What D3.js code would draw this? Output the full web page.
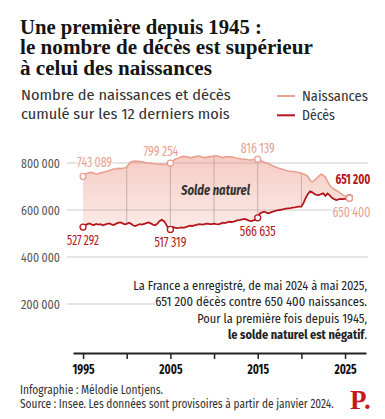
<!DOCTYPE html>
<html>
<head>
<meta charset="utf-8">
<script src="https://cdn.jsdelivr.net/npm/d3@7"></script>
<style>
  body { margin: 0; background: #fff; }
  svg { display: block; }
</style>
</head>
<body>
<svg id="chart" width="385" height="419"></svg>
<script>
// data : cumul 12 mois, en milliers, un point par trimestre depuis janv. 1995
var startYear = 1995;
var step = 0.25;

var births = [
  743.089, 752, 756, 759,
  760, 756, 752, 754,
  758, 760, 763, 765,
  768, 771, 774, 775,
  777, 776, 778, 779,
  782, 797, 805, 807,
  808, 807, 806, 805,
  803, 801, 800, 799,
  798, 797, 796, 795,
  796, 794, 796, 798,
  799.254, 806, 815, 820,
  822, 826, 828, 827,
  825, 823, 824, 826,
  829, 830, 828, 824,
  823, 825, 827, 828,
  830, 831, 829, 826,
  823, 825, 827, 826,
  826, 824, 821, 820,
  818, 817, 816, 815,
  813, 813, 815, 816,
  816.139, 812, 808, 803,
  800, 798, 792, 787,
  784, 780, 777, 774,
  771, 768, 766, 765,
  764, 763, 761, 759,
  756, 753, 749, 742,
  726, 720, 726, 735,
  744, 752, 748, 740,
  722, 705, 695, 688,
  683, 678, 671, 664,
  659, 655, 650.4
];

var deaths = [
  527.292, 535, 540, 543,
  538, 536, 541, 538,
  540, 535, 538, 541,
  543, 539, 536, 541,
  545, 547, 544, 539,
  541, 546, 541, 534,
  532, 536, 540, 538,
  541, 544, 547, 543,
  538, 535, 541, 552,
  558, 553, 540, 522,
  517.319, 528, 525, 523,
  524, 526, 524, 527,
  530, 533, 532, 535,
  537, 540, 539, 538,
  541, 542, 540, 540,
  542, 540, 539, 542,
  546, 544, 547, 550,
  549, 551, 554, 557,
  558, 560, 562, 559,
  555, 553, 556, 558,
  566.635, 585, 590, 593,
  589, 586, 590, 593,
  596, 598, 600, 602,
  604, 606, 607, 608,
  610, 611, 613, 614,
  614, 630, 652, 668,
  679, 675, 668, 664,
  663, 668, 671, 660,
  670, 662, 652, 646,
  642, 645, 647, 646,
  647, 648, 651.2
];

var yTicks = [200000, 400000, 600000, 800000];
var xTicks = [1995, 2000, 2005, 2010, 2015, 2020, 2025];
var xLabels = [1995, 2005, 2015, 2025];
var gridYears = [2000, 2005, 2010, 2015, 2020];

// points annotés (index dans les séries)
var birthMarks = [0, 40, 80, births.length - 1];
var deathMarks = [0, 40, 80, deaths.length - 1];

var titleLines = ["Une première depuis 1945 :", "le nombre de décès est supérieur", "à celui des naissances"];
var subtitleLines = ["Nombre de naissances et décès", "cumulé sur les 12 derniers mois"];
var legendNames = ["Naissances", "Décès"];
var noteLines = ["La France a enregistré, de mai 2024 à mai 2025,", "651 200 décès contre 650 400 naissances.", "Pour la première fois depuis 1945,", "le solde naturel est négatif."];
var footLines = ["Infographie : Mélodie Lontjens.", "Source : Insee. Les données sont provisoires à partir de janvier 2024."];

var colBirth = "#e8a191";
var colDeath = "#b3171c";
var sans = "'Fira Sans Condensed', Roboto, sans-serif";
var serif = "'Liberation Serif', 'DejaVu Serif', serif";

var data = births.map(function(b, i) {
  return {year: startYear + i * step, birth: b * 1000, death: deaths[i] * 1000};
});

var fr = d3.formatLocale({decimal: ",", thousands: "\u2009", grouping: [3], currency: ["", " €"]});
var fmt = fr.format(",d");

var svg = d3.select("#chart");

// texte resserré horizontalement (w = largeur voulue, sinon facteur k)
function txt(parent, px, py, str, o) {
  o = o || {};
  var g = parent.append("g").attr("transform", "translate(" + px + "," + py + ")");
  var t = g.append("text")
    .attr("text-anchor", o.anchor || "start")
    .style("font-family", o.family || sans)
    .style("font-size", (o.size || 12) + "px")
    .style("font-weight", o.weight || "normal")
    .style("font-style", o.italic ? "italic" : "normal")
    .style("fill", o.fill || "#333")
    .text(str);
  if (o.halo) t.style("stroke", "#fff").style("stroke-width", 3).style("paint-order", "stroke");
  var w = t.node().getComputedTextLength();
  var k = o.w ? o.w / w : (o.k || 0.84);
  t.attr("transform", "scale(" + k + ",1)");
  return t;
}

//scales
var x = d3.scaleLinear().domain([1993.85, 2027.4]).range([73, 366]);
var y = d3.scaleLinear().domain([0, 800000]).range([351, 163]);

//titre
var titleW = [242, 293, 192];
titleLines.forEach(function(t, i) {
  txt(svg, 20, 34 + i * 20.3, t, {family: serif, weight: "bold", size: 20, fill: "#151515", w: titleW[i]});
});

var subW = [210, 209];
subtitleLines.forEach(function(t, i) {
  txt(svg, 21, 100 + i * 19.3, t, {size: 15.5, fill: "#333", w: subW[i]});
});

//legende
var legW = [66, 33];
[colBirth, colDeath].forEach(function(c, i) {
  var g = svg.append("g").attr("transform", "translate(277," + (96 + i * 19.3) + ")");
  g.append("line").attr("x1", 0).attr("x2", 18)
    .style("stroke", c).style("stroke-width", 2);
  txt(g, 25, 5, legendNames[i], {size: 15.5, fill: "#333", w: legW[i]});
});

//grille y
var grid = svg.append("g");
yTicks.forEach(function(v) {
  grid.append("line")
    .attr("x1", 67).attr("x2", v === 200000 ? 155 : 368)
    .attr("y1", y(v)).attr("y2", y(v))
    .style("stroke", "#dcdcdc").style("stroke-width", 1.3);
  txt(grid, 60, y(v) + 4.5, fmt(v), {anchor: "end", size: 13, fill: "#555", w: 39});
});

//aire solde naturel
var defs = svg.append("defs");
var grad = defs.append("linearGradient").attr("id", "solde")
  .attr("x1", 0).attr("x2", 0).attr("y1", 0).attr("y2", 1);
grad.append("stop").attr("offset", "0%").style("stop-color", "#eb8d7c").style("stop-opacity", 0.45);
grad.append("stop").attr("offset", "100%").style("stop-color", "#eb8d7c").style("stop-opacity", 0.18);

var area = d3.area()
  .x(function(d) { return x(d.year); })
  .y0(function(d) { return y(d.death); })
  .y1(function(d) { return y(d.birth); });

defs.append("clipPath").attr("id", "clipSolde")
  .append("path").datum(data).attr("d", area);

svg.append("path").datum(data)
  .attr("d", area)
  .style("fill", "url(#solde)");

svg.append("g").attr("clip-path", "url(#clipSolde)")
  .selectAll("line").data(gridYears).enter().append("line")
  .attr("x1", function(d) { return x(d); }).attr("x2", function(d) { return x(d); })
  .attr("y1", y(900000)).attr("y2", y(400000))
  .style("stroke", "#a88e8a").style("stroke-opacity", 0.6).style("stroke-width", 1);

txt(svg, 215.5, 195, "Solde naturel", {anchor: "middle", size: 14.5, italic: true, weight: "bold", fill: "#333", w: 69});

//courbes
var lineB = d3.line().x(function(d) { return x(d.year); }).y(function(d) { return y(d.birth); });
var lineD = d3.line().x(function(d) { return x(d.year); }).y(function(d) { return y(d.death); });

svg.append("path").datum(data).attr("d", lineB)
  .style("fill", "none").style("stroke", colBirth).style("stroke-width", 1.6);
svg.append("path").datum(data).attr("d", lineD)
  .style("fill", "none").style("stroke", colDeath).style("stroke-width", 1.8);

//etiquettes des points
var birthLab = [
  {dx: -6, dy: -9, anchor: "start", w: 35},
  {dx: 8, dy: -7, anchor: "end", w: 35},
  {dx: 0, dy: -6, anchor: "middle", w: 34},
  {dx: 21, dy: 19, anchor: "end", w: 38}
];
var deathLab = [
  {dx: 0, dy: 18, anchor: "middle", w: 32},
  {dx: 0, dy: 18, anchor: "middle", w: 32},
  {dx: 0, dy: 18, anchor: "middle", w: 36},
  {dx: 21, dy: -14, anchor: "end", bold: true, w: 35}
];

function labels(marks, key, col, opts) {
  marks.forEach(function(idx, i) {
    var d = data[idx];
    var o = opts[i];
    txt(svg, x(d.year) + o.dx, y(d[key]) + o.dy, fmt(Math.round(d[key])),
      {anchor: o.anchor, size: 15, weight: o.bold ? "bold" : "normal", fill: col, halo: true, w: o.w});
  });
}
labels(birthMarks, "birth", colBirth, birthLab);
labels(deathMarks, "death", colDeath, deathLab);

function dots(marks, key, col) {
  svg.append("g").selectAll("circle").data(marks).enter().append("circle")
    .attr("cx", function(i) { return x(data[i].year); })
    .attr("cy", function(i) { return y(data[i][key]); })
    .attr("r", 3)
    .style("fill", "#fff").style("stroke", col).style("stroke-width", 1.3);
}
dots(deathMarks, "death", colDeath);
dots(birthMarks, "birth", colBirth);

//note
var noteW = [234, 212, 170, 139];
var note = svg.append("g");
noteLines.forEach(function(t, i) {
  var tx = txt(note, 367, 290 + i * 16.3, t, {anchor: "end", size: 13, fill: "#222", w: noteW[i]});
  if (i === 3) {
    tx.text(null);
    tx.append("tspan").style("font-weight", "bold").text("le solde naturel est négatif");
    tx.append("tspan").style("font-weight", "normal").text(".");
    var w = tx.node().getComputedTextLength();
    tx.attr("transform", "scale(" + (noteW[i] / w) + ",1)");
  }
});

//axe x
var xAxis = d3.axisBottom(x)
  .tickValues(xTicks)
  .tickFormat(function(d) { return xLabels.indexOf(d) >= 0 ? d : ""; })
  .tickSizeInner(6)
  .tickSizeOuter(0)
  .tickPadding(5);

var gx = svg.append("g")
  .attr("transform", "translate(0,353)")
  .call(xAxis);
gx.select(".domain").style("stroke", "#222").style("stroke-width", 1.8);
gx.selectAll(".tick line").style("stroke", "#222").style("stroke-width", 1.5);
gx.selectAll(".tick text")
  .style("font-family", sans).style("font-weight", "bold")
  .style("font-size", "13.5px").style("fill", "#111")
  .attr("transform", "scale(0.84,1)");

//pied
var footW = [143, 314];
footLines.forEach(function(t, i) {
  txt(svg, 20, 394 + i * 14, t, {size: 12.5, fill: "#333", w: footW[i]});
});

svg.append("text")
  .attr("x", 350).attr("y", 409)
  .style("font-family", serif).style("font-weight", "bold")
  .style("font-size", "27px").style("fill", "#c8161d")
  .text("P.");
</script>
</body>
</html>
